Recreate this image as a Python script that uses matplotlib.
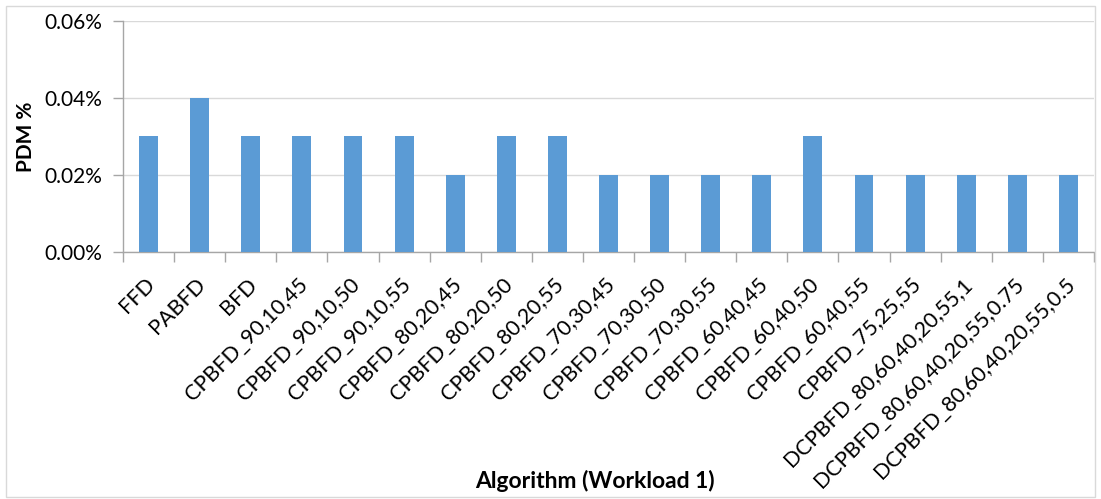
import matplotlib
matplotlib.use("Agg")
import matplotlib.pyplot as plt
from matplotlib.ticker import FuncFormatter, FixedLocator
from matplotlib.patches import Rectangle
from matplotlib.transforms import ScaledTranslation

categories = ["FFD", "PABFD", "BFD",
              "CPBFD_90,10,45", "CPBFD_90,10,50", "CPBFD_90,10,55",
              "CPBFD_80,20,45", "CPBFD_80,20,50", "CPBFD_80,20,55",
              "CPBFD_70,30,45", "CPBFD_70,30,50", "CPBFD_70,30,55",
              "CPBFD_60,40,45", "CPBFD_60,40,50", "CPBFD_60,40,55",
              "CPBFD_75,25,55", "DCPBFD_80,60,40,20,55,1",
              "DCPBFD_80,60,40,20,55,0.75", "DCPBFD_80,60,40,20,55,0.5"]
pdm = [0.03, 0.04, 0.03, 0.03, 0.03, 0.03, 0.02, 0.03, 0.03, 0.02,
       0.02, 0.02, 0.02, 0.03, 0.02, 0.02, 0.02, 0.02, 0.02]
y_ticks = [0.0, 0.02, 0.04, 0.06]

plt.rcParams['font.family'] = ['Lato', 'DejaVu Sans']

fig = plt.figure(figsize=(11.01, 4.99), dpi=100)
ax = fig.add_axes([123/1101, 1-252/499, (1094-123)/1101, (252-21)/499])

x = list(range(len(categories)))
ax.bar(x, pdm, width=0.37, color="#5B9BD5", zorder=3)
ax.set_xlim(-0.5, len(categories)-0.5)
ax.set_ylim(0, 0.06)
ax.yaxis.set_major_locator(FixedLocator(y_ticks))
ax.yaxis.set_major_formatter(FuncFormatter(lambda v, p: f"{v:.2f}%"))
ax.grid(axis='y', color="#D9D9D9", linewidth=1, zorder=0)

ax.set_xticks(x)
ax.set_xticklabels(categories, rotation=45, ha='right', va='center',
                   rotation_mode='anchor', fontsize=15.5)
ax.tick_params(axis='x', length=0, pad=21)
ax.set_xticks([i - 0.5 for i in range(len(categories)+1)], minor=True)
ax.tick_params(axis='x', which='minor', length=7, color="#A6A6A6", width=1)
ax.tick_params(axis='y', length=7, color="#A6A6A6", width=1, labelsize=15, pad=8)

offset = ScaledTranslation(3/100, 0, fig.dpi_scale_trans)
for t in ax.xaxis.get_major_ticks():
    t.label1.set_transform(t.label1.get_transform() + offset)

for s in ['top', 'right']:
    ax.spines[s].set_visible(False)
for s in ['left', 'bottom']:
    ax.spines[s].set_color("#A6A6A6")
    ax.spines[s].set_linewidth(1)

ax.set_ylabel("PDM %", fontsize=15, fontweight='bold')
ax.yaxis.set_label_coords(-87/971, 0.5)
fig.text(595/1101, 1 - 481/499, "Algorithm (Workload 1)",
         ha='center', va='center', fontsize=16.5, fontweight='bold')

fig.patches.append(Rectangle((6/1101, 2/499), 1-12/1101, 1-8/499, transform=fig.transFigure,
                             fill=False, edgecolor="#D9D9D9", linewidth=1))

fig.savefig("out.png", dpi=100)
